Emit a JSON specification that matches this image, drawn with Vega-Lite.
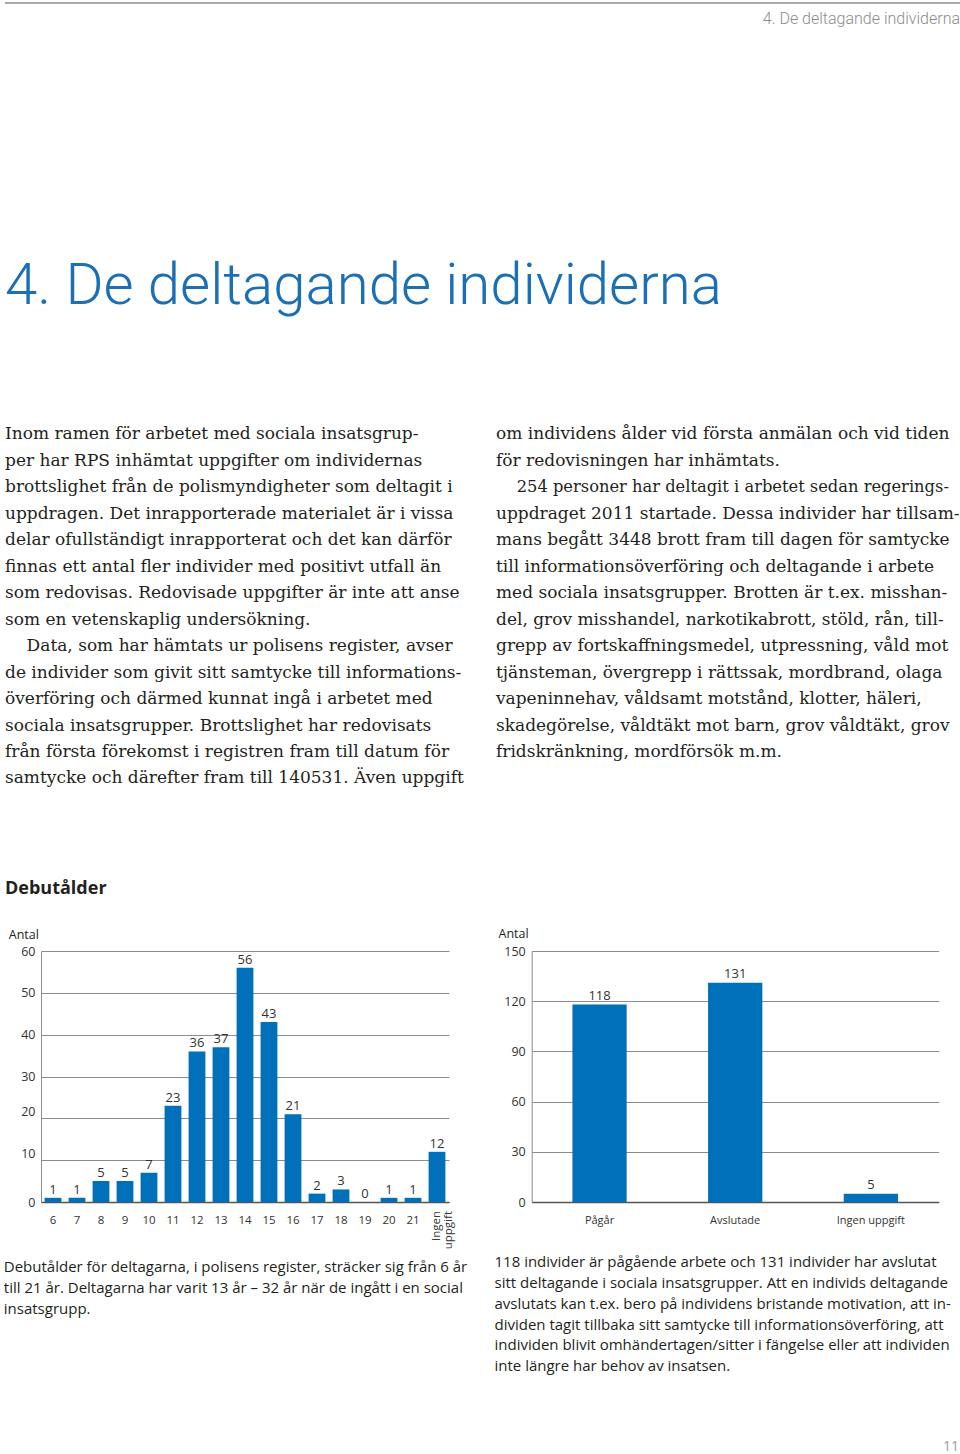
{
  "$schema": "https://vega.github.io/schema/vega-lite/v6.json",
  "padding": {"left": 3, "top": 0, "right": 0, "bottom": 0},
  "background": "#ffffff",
  "bounds": "full",
  "spacing": 0,
  "config": {
    "view": {"stroke": null},
    "font": "Open Sans",
    "axis": {"labelFont": "Open Sans", "titleFont": "Open Sans", "labelColor": "#333333", "titleColor": "#231f20", "titleFontWeight": "normal", "ticks": false, "tickSize": 0, "labelOverlap": false}
  },
  "vconcat": [
    {
      "width": 957,
      "height": 6,
      "data": {"values": [{"kant": "topp"}]},
      "mark": {"type": "rule", "color": "#8c8c8c", "strokeWidth": 1.5},
      "encoding": {
        "y": {"field": "kant", "type": "nominal", "scale": {"type": "point"}, "axis": null}
      }
    },
    {
      "width": 957,
      "height": 26,
      "data": {"values": [{"sida": "h", "text": "4. De deltagande individerna"}]},
      "mark": {"type": "text", "align": "right", "baseline": "middle", "dx": -2, "font": "Roboto", "fontSize": 16, "fontWeight": 300, "color": "#8c8c8c"},
      "encoding": {
        "x": {"field": "sida", "type": "nominal", "scale": {"type": "point", "align": 1}, "axis": null},
        "y": {"field": "sida", "type": "nominal", "scale": {"type": "point", "align": 0.5}, "axis": null},
        "text": {"field": "text"}
      }
    },
    {
      "width": 957,
      "height": 380.5,
      "data": {"values": [{"sida": "v", "text": "4. De deltagande individerna"}]},
      "mark": {"type": "text", "align": "left", "baseline": "alphabetic", "font": "Roboto", "fontSize": 58.2, "fontWeight": 300, "color": "#1b6fb7"},
      "encoding": {
        "x": {"field": "sida", "type": "nominal", "scale": {"type": "point", "align": 0}, "axis": null},
        "y": {"field": "sida", "type": "nominal", "scale": {"type": "point", "align": 0.7155}, "axis": null},
        "text": {"field": "text"}
      }
    },
    {
      "width": 491,
      "height": 396.9,
      "data": {"values": [
        {"spalt": 1, "rad": 1, "text": "Inom ramen för arbetet med sociala insatsgrup-"},
        {"spalt": 1, "rad": 2, "text": "per har RPS inhämtat uppgifter om individernas"},
        {"spalt": 1, "rad": 3, "text": "brottslighet från de polismyndigheter som deltagit i"},
        {"spalt": 1, "rad": 4, "text": "uppdragen. Det inrapporterade materialet är i vissa"},
        {"spalt": 1, "rad": 5, "text": "delar ofullständigt inrapporterat och det kan därför"},
        {"spalt": 1, "rad": 6, "text": "finnas ett antal fler individer med positivt utfall än"},
        {"spalt": 1, "rad": 7, "text": "som redovisas. Redovisade uppgifter är inte att anse"},
        {"spalt": 1, "rad": 8, "text": "som en vetenskaplig undersökning."},
        {"spalt": 1, "rad": 9, "text": "\u200b\u00a0\u00a0\u00a0\u00a0Data, som har hämtats ur polisens register, avser"},
        {"spalt": 1, "rad": 10, "text": "de individer som givit sitt samtycke till informations-"},
        {"spalt": 1, "rad": 11, "text": "överföring och därmed kunnat ingå i arbetet med"},
        {"spalt": 1, "rad": 12, "text": "sociala insatsgrupper. Brottslighet har redovisats"},
        {"spalt": 1, "rad": 13, "text": "från första förekomst i registren fram till datum för"},
        {"spalt": 1, "rad": 14, "text": "samtycke och därefter fram till 140531. Även uppgift"},
        {"spalt": 2, "rad": 1, "text": "om individens ålder vid första anmälan och vid tiden"},
        {"spalt": 2, "rad": 2, "text": "för redovisningen har inhämtats."},
        {"spalt": 2, "rad": 3, "text": "\u200b\u00a0\u00a0\u00a0\u00a0254 personer har deltagit i arbetet sedan regerings-"},
        {"spalt": 2, "rad": 4, "text": "uppdraget 2011 startade. Dessa individer har tillsam-"},
        {"spalt": 2, "rad": 5, "text": "mans begått 3448 brott fram till dagen för samtycke"},
        {"spalt": 2, "rad": 6, "text": "till informationsöverföring och deltagande i arbete"},
        {"spalt": 2, "rad": 7, "text": "med sociala insatsgrupper. Brotten är t.ex. misshan-"},
        {"spalt": 2, "rad": 8, "text": "del, grov misshandel, narkotikabrott, stöld, rån, till-"},
        {"spalt": 2, "rad": 9, "text": "grepp av fortskaffningsmedel, utpressning, våld mot"},
        {"spalt": 2, "rad": 10, "text": "tjänsteman, övergrepp i rättssak, mordbrand, olaga"},
        {"spalt": 2, "rad": 11, "text": "vapeninnehav, våldsamt motstånd, klotter, häleri,"},
        {"spalt": 2, "rad": 12, "text": "skadegörelse, våldtäkt mot barn, grov våldtäkt, grov"},
        {"spalt": 2, "rad": 13, "text": "fridskränkning, mordförsök m.m."}
      ]},
      "mark": {"type": "text", "align": "left", "baseline": "alphabetic", "font": "DejaVu Serif", "color": "#231f20"},
      "encoding": {
        "x": {"field": "spalt", "type": "ordinal", "scale": {"type": "point", "padding": 0}, "axis": null},
        "y": {"field": "rad", "type": "ordinal", "scale": {"type": "point", "padding": 1, "align": 0.5}, "axis": null},
        "text": {"field": "text"},
        "size": {"condition": {"test": "datum.spalt == 2 && datum.rad == 3", "value": 16.3}, "value": 17}
      }
    },
    {
      "width": 957,
      "height": 116.8,
      "data": {"values": [{"sida": "v", "text": "Debutålder"}]},
      "mark": {"type": "text", "align": "left", "baseline": "alphabetic", "font": "Open Sans", "fontSize": 18, "fontWeight": "bold", "color": "#231f20"},
      "encoding": {
        "x": {"field": "sida", "type": "nominal", "scale": {"type": "point", "align": 0}, "axis": null},
        "y": {"field": "sida", "type": "nominal", "scale": {"type": "point", "align": 0.7183}, "axis": null},
        "text": {"field": "text"}
      }
    },
    {
      "spacing": -3,
      "bounds": "full",
      "hconcat": [
        {
          "width": 0.01,
          "height": 0.01,
          "data": {"values": []},
          "mark": "point"
        },
        {
          "spacing": 26.7,
          "bounds": "full",
          "hconcat": [
            {
              "width": 408,
              "height": 251,
              "data": {"values": [
                {"alder": "6", "antal": 1},
                {"alder": "7", "antal": 1},
                {"alder": "8", "antal": 5},
                {"alder": "9", "antal": 5},
                {"alder": "10", "antal": 7},
                {"alder": "11", "antal": 23},
                {"alder": "12", "antal": 36},
                {"alder": "13", "antal": 37},
                {"alder": "14", "antal": 56},
                {"alder": "15", "antal": 43},
                {"alder": "16", "antal": 21},
                {"alder": "17", "antal": 2},
                {"alder": "18", "antal": 3},
                {"alder": "19", "antal": 0},
                {"alder": "20", "antal": 1},
                {"alder": "21", "antal": 1},
                {"alder": "Ingen uppgift", "antal": 12}
              ]},
              "encoding": {
                "x": {
                  "field": "alder", "type": "nominal", "sort": null,
                  "scale": {"paddingInner": 0.3, "paddingOuter": 0.15},
                  "axis": {
                    "title": ["Debutålder för deltagarna, i polisens register, sträcker sig från 6 år", "till 21 år. Deltagarna har varit 13 år – 32 år när de ingått i en social", "insatsgrupp."],
                    "titleAnchor": "start", "titleAlign": "left", "titleBaseline": "alphabetic",
                    "titleX": -37.7, "titleY": 69.7, "titleFontSize": 15, "titleLineHeight": 20.8,
                    "labelAngle": 0, "labelFontSize": 11.5, "labelPadding": 12,
                    "labelExpr": "datum.value == 'Ingen uppgift' ? '' : datum.label",
                    "domainColor": "#555555", "domainWidth": 1.5
                  }
                },
                "y": {
                  "field": "antal", "type": "quantitative", "scale": {"domain": [0, 60]},
                  "axis": {
                    "values": [0, 10, 20, 30, 40, 50, 60],
                    "title": "Antal", "titleAngle": 0, "titleAlign": "left", "titleBaseline": "middle",
                    "titleX": -32.7, "titleY": -16.7, "titleFontSize": 12.5,
                    "grid": true, "gridColor": "#8c8c8c", "gridWidth": 1,
                    "domainColor": "#8c8c8c", "labelPadding": 6, "labelFontSize": 12.5,
                    "labelOffset": {"condition": {"test": "datum.value == 10 || datum.value == 20", "value": -7}, "value": 0}
                  }
                }
              },
              "layer": [
                {"mark": {"type": "bar", "color": "#0070ba"}},
                {"mark": {"type": "text", "baseline": "alphabetic", "dy": -4, "fontSize": 13, "color": "#333333"}, "encoding": {"text": {"field": "antal", "type": "quantitative"}}},
                {
                  "transform": [{"filter": "datum.alder == 'Ingen uppgift'"}],
                  "mark": {"type": "text", "angle": 270, "align": "right", "baseline": "middle", "lineBreak": " ", "lineHeight": 12, "dx": -9, "font": "Open Sans", "fontSize": 11.5, "color": "#333333"},
                  "encoding": {"y": {"datum": 0}, "text": {"field": "alder"}}
                }
              ]
            },
            {
              "width": 407,
              "height": 251,
              "data": {"values": [
                {"status": "Pågår", "antal": 118},
                {"status": "Avslutade", "antal": 131},
                {"status": "Ingen uppgift", "antal": 5}
              ]},
              "encoding": {
                "x": {
                  "field": "status", "type": "nominal", "sort": null,
                  "scale": {"paddingInner": 0.6, "paddingOuter": 0.3},
                  "axis": {
                    "title": ["118 individer är pågående arbete och 131 individer har avslutat", "sitt deltagande i sociala insatsgrupper. Att en individs deltagande", "avslutats kan t.ex. bero på individens bristande motivation, att in-", "dividen tagit tillbaka sitt samtycke till informationsöverföring, att", "individen blivit omhändertagen/sitter i fängelse eller att individen", "inte längre har behov av insatsen."],
                    "titleAnchor": "start", "titleAlign": "left", "titleBaseline": "alphabetic",
                    "titleX": -37.7, "titleY": 64.7, "titleFontSize": 15, "titleLineHeight": 20.8,
                    "labelAngle": 0, "labelFontSize": 11, "labelPadding": 12,
                    "domainColor": "#555555", "domainWidth": 1.5
                  }
                },
                "y": {
                  "field": "antal", "type": "quantitative", "scale": {"domain": [0, 150]},
                  "axis": {
                    "values": [0, 30, 60, 90, 120, 150],
                    "title": "Antal", "titleAngle": 0, "titleAlign": "left", "titleBaseline": "middle",
                    "titleX": -33.7, "titleY": -17.3, "titleFontSize": 12.5,
                    "grid": true, "gridColor": "#8c8c8c", "gridWidth": 1,
                    "domainColor": "#8c8c8c", "labelPadding": 6.5, "labelFontSize": 12.5
                  }
                }
              },
              "layer": [
                {"mark": {"type": "bar", "color": "#0070ba"}},
                {"mark": {"type": "text", "baseline": "alphabetic", "dy": -5, "fontSize": 13, "color": "#333333"}, "encoding": {"text": {"field": "antal", "type": "quantitative"}}}
              ]
            }
          ]
        }
      ]
    },
    {
      "width": 957,
      "height": 90,
      "data": {"values": [{"sida": "h", "text": "11"}]},
      "mark": {"type": "text", "align": "right", "baseline": "alphabetic", "dx": -3, "font": "Open Sans", "fontSize": 14, "color": "#9a9a9a"},
      "encoding": {
        "x": {"field": "sida", "type": "nominal", "scale": {"type": "point", "align": 1}, "axis": null},
        "y": {"field": "sida", "type": "nominal", "scale": {"type": "point", "align": 0.856}, "axis": null},
        "text": {"field": "text"}
      }
    }
  ]
}
